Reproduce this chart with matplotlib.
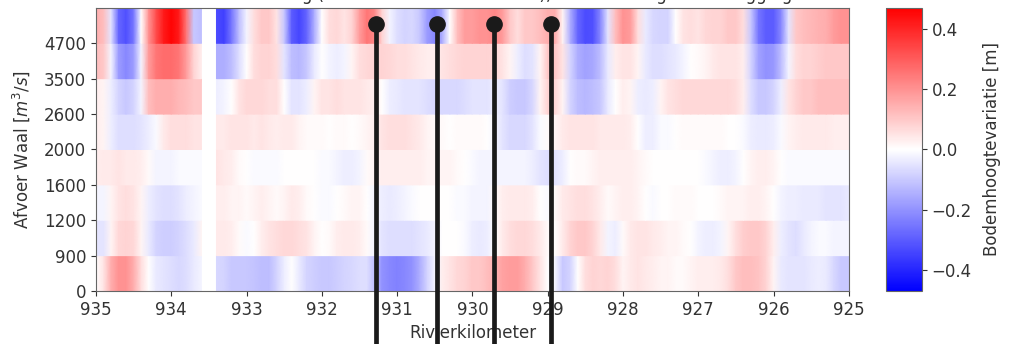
import numpy as np
import matplotlib
matplotlib.use("Agg")
import matplotlib.pyplot as plt

nan = np.nan

# river kilometre of each sample (0.1 km steps)
km = np.round(np.arange(935.0, 924.95, -0.1), 1)

# discharge classes (lower edge of each row), bottom to top
afvoer_labels = ["0", "900", "1200", "1600", "2000", "2600", "3500", "4700"]

# bed level variation [m] per row, bottom row first, values along km (935 -> 925)
row0 = [0.0, 0.05, 0.15, 0.2, 0.2, 0.15, 0.06, 0.0, -0.04, -0.05,
        -0.06, -0.07, -0.06, -0.04, -0.02, nan, -0.07, -0.08, -0.1, -0.1,
        -0.1, -0.11, -0.12, -0.12, -0.08, -0.03, 0.0, -0.04, -0.08, -0.09,
        -0.1, -0.1, -0.09, -0.08, -0.07, -0.06, -0.06, -0.12, -0.2, -0.22,
        -0.23, -0.22, -0.2, -0.15, -0.08, -0.02, 0.03, 0.05, 0.07, 0.08,
        0.1, 0.1, 0.12, 0.14, 0.17, 0.18, 0.18, 0.15, 0.1, 0.05,
        0.0, -0.02, -0.1, -0.08, 0.0, 0.06, 0.08, 0.07, 0.08, 0.06,
        0.02, 0.04, 0.05, 0.04, 0.03, 0.02, 0.02, 0.01, 0.01, 0.02,
        0.03, 0.03, 0.03, 0.04, 0.06, 0.1, 0.12, 0.12, 0.11, 0.08,
        0.02, -0.04, -0.05, -0.05, -0.05, -0.04, -0.03, -0.04, -0.07, -0.1, -0.1]
row1 = [-0.05, -0.05, 0.02, 0.07, 0.08, 0.07, 0.02, -0.04, -0.08, -0.09,
        -0.09, -0.08, -0.06, -0.04, 0.02, nan, 0.04, 0.04, 0.03, 0.01,
        -0.01, 0.0, 0.03, 0.05, 0.06, 0.07, 0.07, 0.06, 0.05, 0.02,
        0.0, 0.01, 0.03, 0.04, 0.04, 0.03, 0.01, -0.02, -0.05, -0.06,
        -0.06, -0.06, -0.06, -0.05, -0.04, -0.02, 0.0, 0.0, 0.0, -0.01,
        -0.03, -0.04, -0.03, 0.0, 0.04, 0.06, 0.07, 0.07, 0.06, 0.04,
        0.01, 0.0, 0.04, 0.08, 0.1, 0.1, 0.08, 0.04, -0.02, -0.03,
        0.01, 0.04, 0.05, 0.05, 0.04, 0.03, 0.02, 0.02, 0.01, 0.0,
        -0.02, -0.03, -0.03, -0.02, 0.02, 0.06, 0.09, 0.1, 0.1, 0.08,
        0.03, -0.03, -0.05, -0.06, -0.04, -0.02, -0.01, -0.01, -0.02, -0.02, -0.02]
row2 = [-0.02, -0.02, 0.02, 0.05, 0.06, 0.05, 0.02, -0.03, -0.05, -0.06,
        -0.06, -0.05, -0.03, -0.02, -0.01, nan, 0.03, 0.03, 0.02, 0.02,
        0.01, 0.02, 0.03, 0.02, 0.01, 0.02, 0.04, 0.03, 0.01, 0.0,
        -0.01, -0.01, 0.0, 0.01, 0.02, 0.02, 0.0, -0.02, -0.03, -0.04,
        -0.03, -0.02, -0.01, 0.0, 0.0, 0.0, 0.0, 0.0, -0.01, -0.01,
        -0.02, -0.02, -0.02, 0.01, 0.03, 0.04, 0.04, 0.04, 0.03, 0.0,
        -0.01, 0.01, 0.04, 0.05, 0.06, 0.06, 0.05, 0.03, 0.01, 0.02,
        0.03, 0.03, 0.02, 0.0, -0.01, 0.0, 0.0, 0.01, 0.01, 0.01,
        0.0, 0.0, 0.0, 0.01, 0.02, 0.02, 0.02, 0.03, 0.03, 0.02,
        0.0, -0.02, -0.03, -0.03, -0.04, -0.04, -0.04, -0.05, -0.05, -0.05, -0.04]
row3 = [0.03, 0.04, 0.04, 0.05, 0.04, 0.04, 0.03, 0.01, -0.02, -0.02,
        -0.02, -0.01, -0.01, -0.01, -0.01, nan, 0.05, 0.04, 0.03, 0.01,
        0.0, -0.01, -0.01, -0.01, -0.01, 0.0, 0.0, 0.0, 0.0, 0.0,
        -0.01, -0.01, -0.02, -0.03, -0.03, -0.02, 0.01, 0.02, 0.03, 0.03,
        0.03, 0.03, 0.03, 0.03, 0.02, 0.02, 0.02, 0.02, 0.01, 0.0,
        -0.01, -0.02, -0.02, -0.02, -0.02, -0.02, -0.02, -0.02, -0.03, -0.05,
        -0.06, -0.05, -0.03, 0.0, 0.01, 0.01, 0.02, 0.03, 0.03, 0.03,
        0.03, 0.03, 0.02, 0.01, 0.0, 0.0, 0.0, 0.0, 0.0, 0.0,
        0.0, -0.01, -0.02, -0.03, -0.03, -0.02, 0.0, 0.02, 0.03, 0.03,
        0.02, 0.0, -0.01, -0.01, -0.01, -0.01, -0.01, -0.01, -0.01, -0.01, -0.01]
row4 = [0.03, 0.02, -0.03, -0.06, -0.06, -0.06, -0.05, -0.03, -0.01, 0.04,
        0.06, 0.06, 0.06, 0.05, 0.05, nan, 0.04, 0.04, 0.05, 0.05,
        0.05, 0.04, 0.05, 0.04, 0.03, 0.04, 0.04, 0.02, 0.01, 0.01,
        0.01, 0.0, 0.01, 0.01, 0.0, 0.01, 0.02, 0.03, 0.05, 0.06,
        0.06, 0.06, 0.05, 0.04, 0.02, 0.01, 0.01, 0.0, 0.01, 0.01,
        0.01, 0.01, 0.0, -0.02, -0.05, -0.07, -0.07, -0.07, -0.05, -0.01,
        0.01, 0.02, 0.04, 0.05, 0.05, 0.05, 0.05, 0.04, 0.04, 0.04,
        0.04, 0.03, 0.0, -0.03, -0.03, -0.01, -0.01, 0.0, 0.01, 0.01,
        0.01, 0.01, 0.01, 0.01, 0.0, 0.0, -0.01, -0.03, -0.04, -0.04,
        -0.03, -0.01, 0.02, 0.03, 0.04, 0.04, 0.04, 0.04, 0.03, 0.03, 0.03]
row5 = [0.03, 0.02, -0.03, -0.08, -0.1, -0.08, -0.02, 0.12, 0.15, 0.15,
        0.15, 0.13, 0.12, 0.1, 0.1, nan, -0.03, -0.02, 0.0, 0.05,
        0.07, 0.07, 0.07, 0.06, 0.06, 0.0, -0.05, -0.05, -0.03, 0.02,
        0.05, 0.05, 0.06, 0.05, 0.05, 0.05, 0.04, 0.03, 0.0, -0.03,
        -0.04, -0.05, -0.05, -0.05, -0.06, -0.07, -0.07, -0.07, -0.07, -0.06,
        -0.05, -0.05, -0.05, -0.03, -0.05, -0.09, -0.1, -0.1, -0.07, 0.02,
        0.08, 0.07, 0.02, -0.08, -0.12, -0.13, -0.12, -0.1, -0.04, 0.0,
        0.03, 0.02, -0.03, -0.04, -0.03, 0.02, 0.05, 0.06, 0.07, 0.07,
        0.07, 0.07, 0.07, 0.07, 0.07, 0.06, 0.03, -0.06, -0.1, -0.1,
        -0.08, -0.03, 0.05, 0.08, 0.1, 0.1, 0.12, 0.12, 0.12, 0.12, 0.12]
row6 = [0.12, 0.1, -0.02, -0.18, -0.22, -0.18, -0.02, 0.18, 0.25, 0.27,
        0.27, 0.25, 0.18, 0.08, 0.03, nan, -0.15, -0.15, -0.12, -0.06,
        0.0, 0.06, 0.08, 0.08, 0.06, -0.05, -0.12, -0.13, -0.1, -0.04,
        0.0, -0.02, -0.03, -0.02, 0.02, 0.06, 0.07, 0.08, 0.08, 0.07,
        0.06, 0.06, 0.05, 0.04, 0.03, 0.03, 0.05, 0.06, 0.07, 0.08,
        0.08, 0.08, 0.08, 0.07, 0.05, 0.02, -0.03, -0.06, -0.05, 0.02,
        0.1, 0.1, 0.05, -0.08, -0.15, -0.17, -0.16, -0.12, -0.04, 0.03,
        0.05, 0.05, 0.02, -0.04, -0.06, -0.06, -0.05, -0.04, -0.02, 0.0,
        0.01, 0.02, 0.04, 0.05, 0.05, 0.05, 0.03, -0.08, -0.17, -0.2,
        -0.19, -0.12, -0.02, 0.06, 0.08, 0.08, 0.09, 0.1, 0.1, 0.1, 0.1]
row7 = [0.15, 0.12, -0.05, -0.28, -0.32, -0.25, 0.0, 0.2, 0.33, 0.42,
        0.46, 0.42, 0.25, -0.1, -0.12, nan, -0.33, -0.35, -0.25, -0.12,
        -0.02, 0.06, 0.1, 0.1, 0.05, -0.1, -0.3, -0.34, -0.28, -0.15,
        0.0, 0.06, 0.07, 0.05, 0.08, 0.18, 0.25, 0.22, 0.08, -0.02,
        -0.06, -0.08, -0.07, -0.1, -0.18, -0.22, -0.15, 0.0, 0.12, 0.18,
        0.18, 0.2, 0.2, 0.22, 0.18, 0.1, 0.06, 0.1, 0.1, 0.12,
        0.15, 0.15, 0.02, -0.15, -0.28, -0.33, -0.32, -0.22, -0.05, 0.12,
        0.2, 0.18, 0.06, -0.04, -0.07, -0.08, -0.08, 0.0, 0.05, 0.06,
        0.05, 0.07, 0.08, 0.08, 0.1, 0.1, 0.06, -0.1, -0.25, -0.3,
        -0.3, -0.22, -0.05, 0.1, 0.12, 0.13, 0.14, 0.15, 0.18, 0.2, 0.2]

rows = [row0, row1, row2, row3, row4, row5, row6, row7]

# locations of the vertical markers (river km)
stations = [931.28, 930.47, 929.71, 928.96]

vlim = 0.47
grey = "#333333"
plt.rcParams["font.size"] = 12
plt.rcParams["text.color"] = grey
plt.rcParams["axes.labelcolor"] = grey
plt.rcParams["xtick.color"] = grey
plt.rcParams["ytick.color"] = grey

fig = plt.figure(figsize=(10.16, 3.44), dpi=100)
ax = fig.add_axes([0.0945, 0.154, 0.741, 0.823])
cax = fig.add_axes([0.872, 0.154, 0.0355, 0.823])

mesh = None
for i, row in enumerate(rows):
    vals = np.array(row, dtype=float)
    # draw every contiguous run of valid samples
    idx = np.flatnonzero(~np.isnan(vals))
    runs = np.split(idx, np.flatnonzero(np.diff(idx) > 1) + 1)
    for r in runs:
        if len(r) < 2:
            continue
        xs = km[r]
        X = np.vstack([xs, xs])
        Y = np.vstack([np.full(len(r), i), np.full(len(r), i + 1)])
        C = np.vstack([vals[r], vals[r]])
        mesh = ax.pcolormesh(X, Y, C, shading="gouraud", cmap="bwr",
                             vmin=-vlim, vmax=vlim)

for s in stations:
    ax.plot([s, s], [7.55, -3], color="#1a1a1a", lw=3.4, marker="o",
            markevery=[0], markersize=11, clip_on=False, zorder=10)

ax.set_xlim(935, 925)
ax.set_ylim(0, 8)
ax.set_xticks(np.arange(935, 924, -1))
ax.set_yticks(range(len(afvoer_labels)))
ax.set_yticklabels(afvoer_labels)
ax.set_xlabel("Rivierkilometer")
ax.set_ylabel("Afvoer Waal [$m^3/s$]", labelpad=9)
# title sits just above the figure edge, as in the original
ax.set_title("Bodemverandering (t.o.v. de referentiesituatie), na uitvoering kribverlegging",
             fontsize=12)
for sp in ax.spines.values():
    sp.set_color("#666666")

cb = fig.colorbar(mesh, cax=cax)
cb.set_ticks([-0.4, -0.2, 0.0, 0.2, 0.4])
cb.set_label("Bodemhoogtevariatie [m]", labelpad=8)
cb.outline.set_edgecolor("#666666")

fig.savefig("out.png", dpi=100)
